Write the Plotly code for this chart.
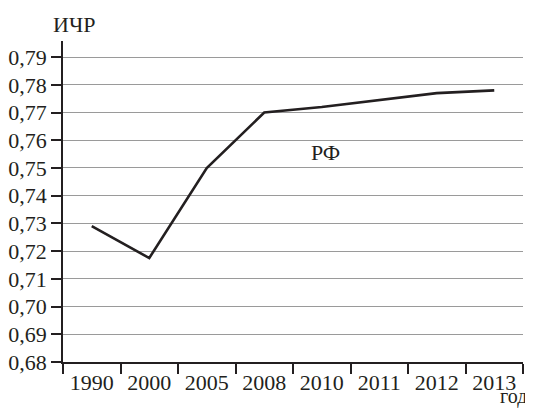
import plotly.graph_objects as go

years = ["1990", "2000", "2005", "2008", "2010", "2011", "2012", "2013"]
hdi = [0.729, 0.7175, 0.750, 0.770, 0.772, 0.7745, 0.777, 0.778]
y_ticks = [0.68, 0.69, 0.70, 0.71, 0.72, 0.73, 0.74, 0.75, 0.76, 0.77, 0.78, 0.79]

FONT = "Liberation Serif"
TXT = "#231f20"

fig = go.Figure()
fig.add_trace(go.Scatter(
    x=years, y=hdi, mode="lines",
    line=dict(color="#231f20", width=2.6),
    showlegend=False, hoverinfo="skip",
))

# the page body has an 8px default margin, so the figure is 8px smaller
fig.update_layout(
    width=525, height=401,
    margin=dict(l=55, r=10, t=33, b=47, autoexpand=False),
    paper_bgcolor="white", plot_bgcolor="white",
    separators=", ",
    font=dict(family=FONT, size=22, color=TXT),
    xaxis=dict(
        type="category", range=[-0.5, 7.5],
        tickson="boundaries", ticks="outside", ticklen=10, tickwidth=1.5,
        tickcolor=TXT, showline=True, linecolor=TXT, linewidth=1.5,
        showgrid=False, zeroline=False,
        tickfont=dict(family=FONT, size=22, color=TXT),
        fixedrange=True, automargin=False,
    ),
    yaxis=dict(
        range=[0.68, 0.7958], tickvals=y_ticks, tickformat=".2f",
        ticks="outside", ticklen=10, tickwidth=1.5, tickcolor=TXT,
        showline=True, linecolor=TXT, linewidth=1.5,
        showgrid=True, gridcolor="#9a9a9a", gridwidth=1.2,
        zeroline=False,
        tickfont=dict(family=FONT, size=22, color=TXT),
        fixedrange=True, automargin=False,
    ),
    annotations=[
        dict(text="ИЧР", xref="paper", yref="paper", x=0.024, y=1.051,
             xanchor="center", yanchor="middle", showarrow=False,
             font=dict(family=FONT, size=22, color=TXT)),
        dict(text="РФ", xref="paper", yref="paper", x=0.5696, y=0.652,
             xanchor="center", yanchor="middle", showarrow=False,
             font=dict(family=FONT, size=22, color=TXT)),
        dict(text="год", xref="paper", yref="paper", x=1.014, y=-0.151,
             xanchor="right", yanchor="bottom", showarrow=False,
             font=dict(family=FONT, size=20, color=TXT)),
    ],
)

fig.write_html("out.html")
